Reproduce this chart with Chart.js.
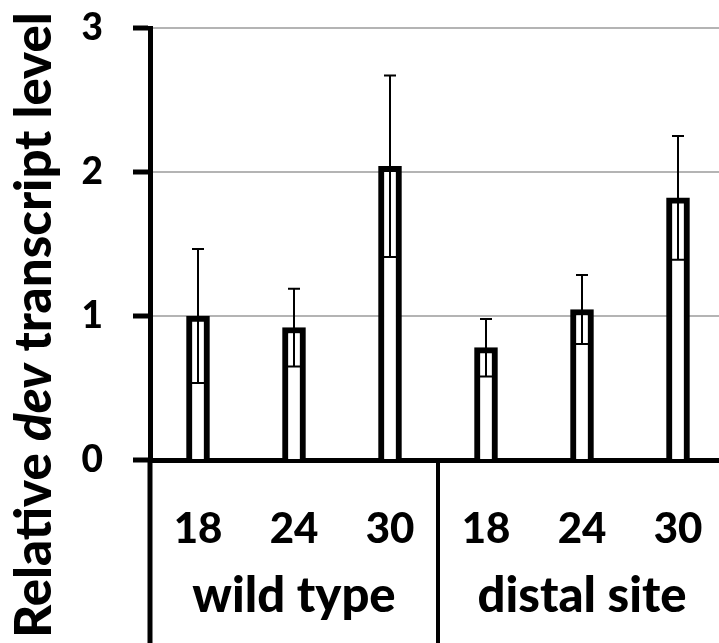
<!DOCTYPE html>
<html>
<head>
<meta charset="utf-8">
<script src="https://cdn.jsdelivr.net/npm/chart.js@4/dist/chart.umd.min.js"></script>
<style>
  html, body { margin: 0; padding: 0; background: #fff; overflow: hidden; }
  #wrap { width: 719px; height: 643px; overflow: hidden; }
  canvas { display: block; }
</style>
</head>
<body>
<div id="wrap"><canvas id="chart" width="726" height="643"></canvas></div>
<script>
// data
const groups = ['wild type', 'distal site'];
const temps = ['18', '24', '30', '18', '24', '30'];
const levels = [1.00, 0.92, 2.04, 0.78, 1.045, 1.82];
const errors = [0.465, 0.27, 0.63, 0.20, 0.24, 0.43];
const yTicks = [0, 1, 2, 3];

const FONT = 'Lato';
const W = '900';

// error bars on top of each bar
const errorBars = {
    id: 'errorBars',
    afterDatasetsDraw(chart) {
        const ctx = chart.ctx;
        const x = chart.scales.x, y = chart.scales.y;
        ctx.save();
        ctx.strokeStyle = '#000';
        ctx.lineWidth = 2;
        levels.forEach((v, i) => {
            const px = x.getPixelForValue(i);
            const top = y.getPixelForValue(v + errors[i]);
            const bot = y.getPixelForValue(v - errors[i]);
            ctx.beginPath();
            ctx.moveTo(px, top); ctx.lineTo(px, bot);
            ctx.moveTo(px - 6, top); ctx.lineTo(px + 6, top);
            ctx.moveTo(px - 6, bot); ctx.lineTo(px + 6, bot);
            ctx.stroke();
        });
        ctx.restore();
    }
};

// group boxes under the axis, group names and the y title
const extras = {
    id: 'extras',
    afterDraw(chart) {
        const ctx = chart.ctx;
        const x = chart.scales.x;
        const area = chart.chartArea;
        const H = chart.height;
        ctx.save();
        ctx.strokeStyle = '#000';
        // y axis line carried down to the bottom
        ctx.lineWidth = 5;
        ctx.beginPath();
        ctx.moveTo(area.left, area.bottom); ctx.lineTo(area.left, H);
        ctx.stroke();
        // separators between groups
        ctx.lineWidth = 4;
        const per = temps.length / groups.length;
        for (let g = 1; g <= groups.length; g++) {
            const sx = g * per < temps.length
                ? (x.getPixelForValue(g * per - 1) + x.getPixelForValue(g * per)) / 2
                : area.right;
            ctx.beginPath();
            ctx.moveTo(sx, area.bottom); ctx.lineTo(sx, H);
            ctx.stroke();
        }
        // group names
        ctx.fillStyle = '#000';
        ctx.font = W + ' 49px ' + FONT;
        ctx.textAlign = 'center';
        ctx.textBaseline = 'alphabetic';
        groups.forEach((name, g) => {
            const cx = x.getPixelForValue(g * per + (per - 1) / 2);
            ctx.fillText(name, cx, 612);
        });
        // y title with italic gene name
        const parts = [
            ['Relative ', W + ' 51px ' + FONT],
            ['dev', 'italic ' + W + ' 51px ' + FONT],
            [' transcript level', W + ' 51px ' + FONT]
        ];
        let total = 0;
        parts.forEach(p => { ctx.font = p[1]; total += ctx.measureText(p[0]).width; });
        ctx.translate(51, 325);
        ctx.rotate(-Math.PI / 2);
        ctx.textAlign = 'left';
        let pos = -total / 2;
        parts.forEach(p => {
            ctx.font = p[1];
            ctx.fillText(p[0], pos, 0);
            pos += ctx.measureText(p[0]).width;
        });
        ctx.restore();
    }
};

new Chart(document.getElementById('chart'), {
    type: 'bar',
    data: {
        labels: temps,
        datasets: [{
            data: levels,
            backgroundColor: '#fff',
            borderColor: '#000',
            borderWidth: 6,
            barThickness: 23
        }]
    },
    options: {
        responsive: false,
        animation: false,
        layout: { padding: { top: 28, left: 0, right: 0, bottom: 0 } },
        plugins: {
            legend: { display: false },
            tooltip: { enabled: false }
        },
        scales: {
            x: {
                grid: { display: false, drawTicks: false },
                border: { display: true, color: '#000', width: 5 },
                ticks: {
                    color: '#000',
                    padding: 44,
                    font: { family: FONT, size: 42, weight: W }
                },
                afterFit(scale) {
                    scale.height = 183;
                    scale.paddingLeft = 0;
                    scale.paddingRight = 0;
                }
            },
            y: {
                min: 0,
                max: 3,
                afterBuildTicks(scale) { scale.ticks = yTicks.map(v => ({ value: v })); },
                grid: {
                    color: ctx => ctx.tick && ctx.tick.value === 0 ? 'rgba(0,0,0,0)' : '#b4b4b4',
                    lineWidth: 2,
                    tickColor: '#000',
                    tickWidth: 5,
                    tickLength: 17
                },
                border: { color: '#000', width: 5 },
                ticks: {
                    color: '#000',
                    padding: 30,
                    font: { family: FONT, size: 37, weight: W }
                },
                afterFit(scale) {
                    scale.width = 150;
                    scale.paddingTop = 0;
                    scale.paddingBottom = 0;
                }
            }
        }
    },
    plugins: [errorBars, extras]
});
</script>
</body>
</html>
